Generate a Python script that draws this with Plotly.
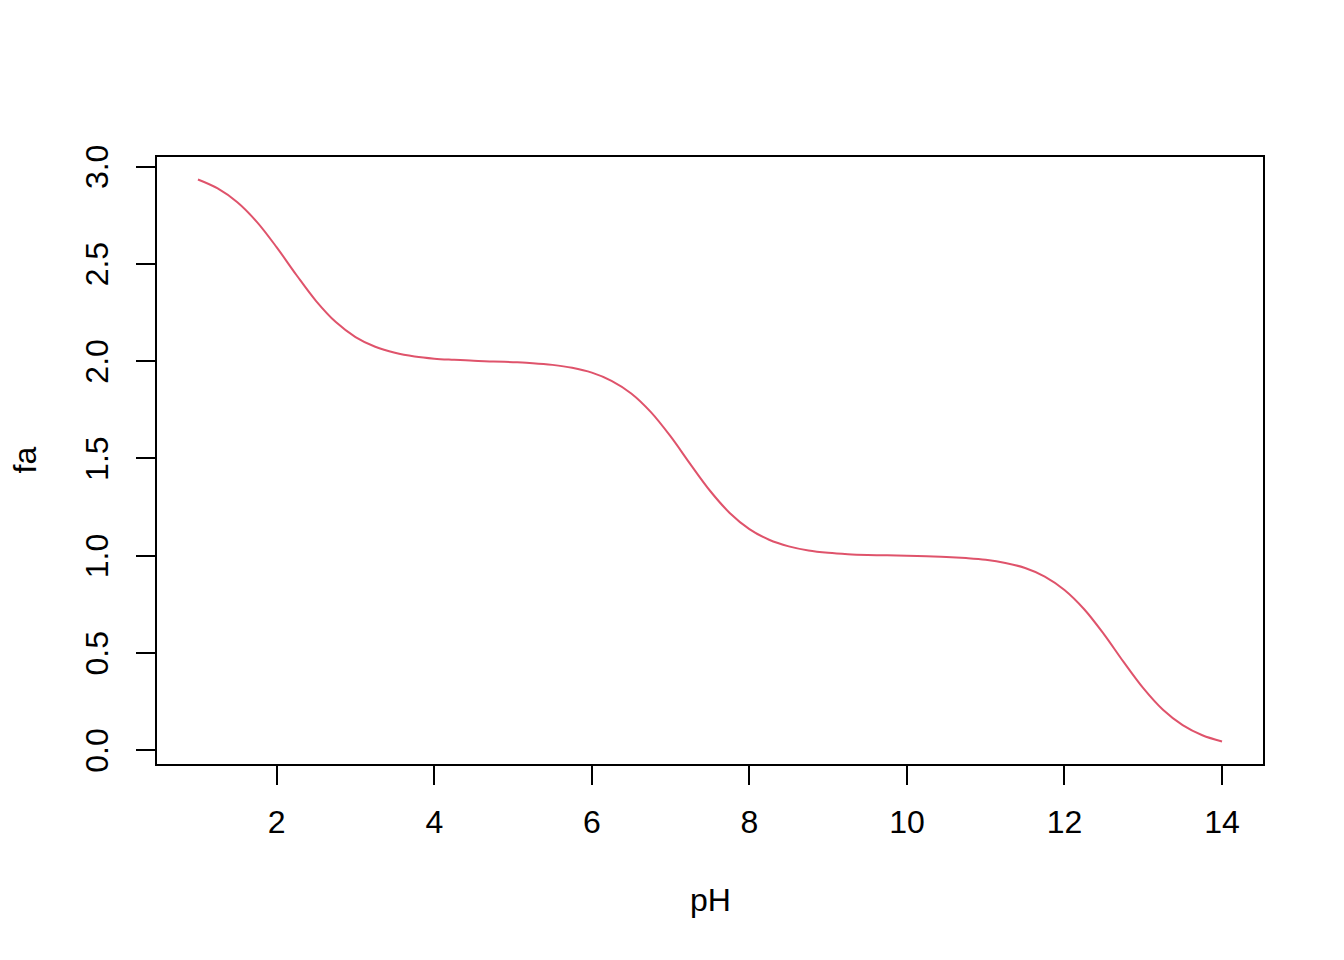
import plotly.graph_objects as go

# pH values and fa values
ph = [1.00, 1.25, 1.50, 1.75, 2.00, 2.25, 2.50, 2.75, 3.00, 3.25, 3.50, 3.75,
      4.00, 4.25, 4.50, 4.75, 5.00, 5.25, 5.50, 5.75, 6.00, 6.25, 6.50, 6.75,
      7.00, 7.25, 7.50, 7.75, 8.00, 8.25, 8.50, 8.75, 9.00, 9.25, 9.50, 9.75,
      10.00, 10.25, 10.50, 10.75, 11.00, 11.25, 11.50, 11.75, 12.00, 12.25,
      12.50, 12.75, 13.00, 13.25, 13.50, 13.75, 14.00]
fa = [2.934, 2.888, 2.817, 2.715, 2.585, 2.443, 2.309, 2.201, 2.124, 2.074,
      2.043, 2.024, 2.013, 2.007, 2.002, 1.999, 1.995, 1.990, 1.981, 1.966,
      1.941, 1.899, 1.834, 1.738, 1.613, 1.471, 1.334, 1.220, 1.137, 1.082,
      1.048, 1.027, 1.015, 1.008, 1.004, 1.002, 1.000, 0.997, 0.994, 0.988,
      0.979, 0.963, 0.937, 0.893, 0.824, 0.725, 0.597, 0.454, 0.319, 0.208,
      0.129, 0.077, 0.045]

x_ticks = [2, 4, 6, 8, 10, 12, 14]
y_ticks = [0.0, 0.5, 1.0, 1.5, 2.0, 2.5, 3.0]
y_tick_labels = ["0.0", "0.5", "1.0", "1.5", "2.0", "2.5", "3.0"]

# R-style 4% axis padding
xr = max(ph) - min(ph)
yr = max(fa) - min(fa)
x_range = [min(ph) - 0.04 * xr, max(ph) + 0.04 * xr]
y_range = [min(fa) - 0.04 * yr, max(fa) + 0.04 * yr]

FONT = "Liberation Sans, Arial, Helvetica, sans-serif"

fig = go.Figure()
fig.add_trace(go.Scatter(x=ph, y=fa, mode="lines",
                         line=dict(color="#DF536B", width=2, shape="spline"),
                         showlegend=False, hoverinfo="skip"))

axis_common = dict(showgrid=False, zeroline=False, showline=True, mirror=True,
                   linecolor="black", linewidth=2, ticks="outside",
                   ticklen=19, tickwidth=2, tickcolor="black",
                   tickfont=dict(family=FONT, size=32, color="black"))

fig.update_xaxes(range=x_range, tickvals=x_ticks,
                 ticktext=[str(v) for v in x_ticks],
                 ticklabelstandoff=10, **axis_common)
fig.update_yaxes(range=y_range, tickvals=y_ticks, ticktext=y_tick_labels,
                 tickangle=-90, ticklabelstandoff=15, ticklabelshift=5,
                 **axis_common)

fig.add_annotation(text="pH", xref="paper", yref="paper", x=0.5, y=0,
                   yshift=-136, showarrow=False, xanchor="center", yanchor="middle",
                   font=dict(family=FONT, size=32, color="black"))
fig.add_annotation(text="fa", xref="paper", yref="paper", x=0, y=0.5,
                   xshift=-133, showarrow=False, textangle=-90,
                   xanchor="center", yanchor="middle",
                   font=dict(family=FONT, size=32, color="black"))

fig.update_layout(width=1328, height=944,
                  margin=dict(l=149, r=73, t=149, b=188),
                  paper_bgcolor="white", plot_bgcolor="white",
                  font=dict(family=FONT, size=32, color="black"))

fig.write_html("out.html")
